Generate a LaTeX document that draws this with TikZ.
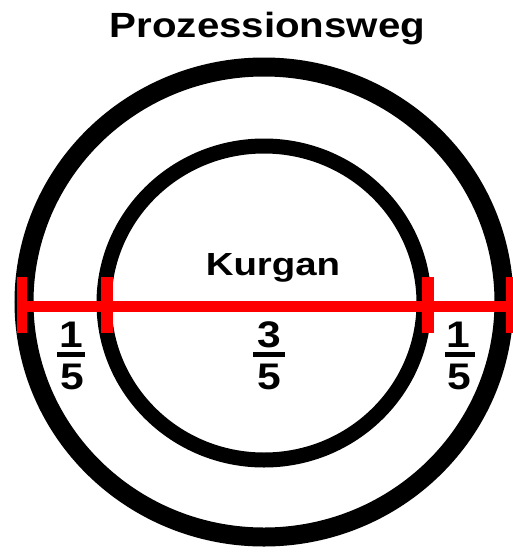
\documentclass[tikz,border=0pt]{standalone}
\usepackage{fontspec}
\setmainfont{Liberation Sans}
\begin{document}
\begin{tikzpicture}[x=1pt,y=-1pt,
  ringline/.style={draw=black},
  redpart/.style={fill=red},
  fracbar/.style={draw=black,line width=4.8pt},
  digit/.style={font=\bfseries\fontsize{37}{37}\selectfont,inner sep=0pt,anchor=base},
  title/.style={font=\bfseries\fontsize{35}{35}\selectfont,inner sep=0pt,anchor=base},
]
\useasboundingbox (0,0) rectangle (513,552);
% rings
\draw[ringline,line width=19pt] (264,302) ellipse [x radius=240, y radius=235];
\draw[ringline,line width=15pt] (264,303) ellipse [x radius=160, y radius=157];
% red measuring bar
\coordinate (bl) at (17,306.5);
\coordinate (br) at (513,306.5);
\draw[red,line width=11pt] (bl) -- (br);
\fill[redpart] (17,277) rectangle (27,333);
\fill[redpart] (101,277) rectangle (113,333);
\fill[redpart] (422,277) rectangle (434,333);
\fill[redpart] (506,277) rectangle (513,333);
% texts
\node[title] (t) at (267.5,37) {\scalebox{1.15}[1]{Prozessionsweg}};
\node[title,font=\bfseries\fontsize{32}{32}\selectfont] (k) at (273,275) {\scalebox{1.2}[1]{Kurgan}};
% fractions
\node[digit] (ln) at (71,347) {\scalebox{1.15}[1]{1}};
\node[digit] (ld) at (72,389) {\scalebox{1.15}[1]{5}};
\draw[fracbar] (57,354.5) -- (85,354.5);
\node[digit] (cn) at (269,347) {\scalebox{1.15}[1]{3}};
\node[digit] (cd) at (269,389) {\scalebox{1.15}[1]{5}};
\draw[fracbar] (253,354.5) -- (285,354.5);
\node[digit] (rn) at (458,347) {\scalebox{1.15}[1]{1}};
\node[digit] (rd) at (459,389) {\scalebox{1.15}[1]{5}};
\draw[fracbar] (445,354.5) -- (475,354.5);
\end{tikzpicture}
\end{document}
